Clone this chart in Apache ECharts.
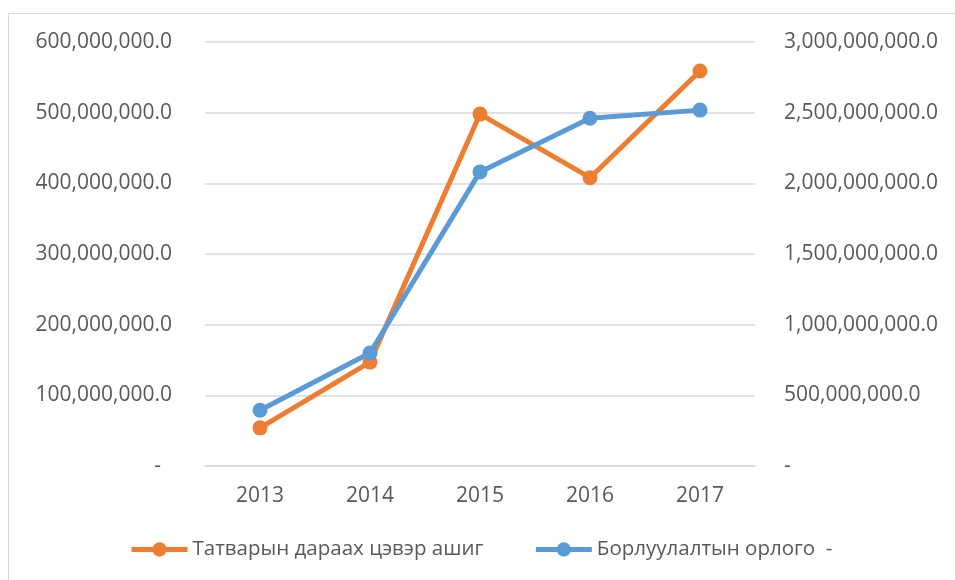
<!DOCTYPE html>
<html>
<head>
<meta charset="utf-8">
<script src="https://cdn.jsdelivr.net/npm/echarts@6/dist/echarts.min.js"></script>
<style>
  html, body { margin: 0; padding: 0; background: #fff; }
</style>
</head>
<body>
<div id="chart" style="width:955px;height:580px"></div>
<script>
// data
const years = ['2013', '2014', '2015', '2016', '2017']
const netProfit = [54000000, 147000000, 498000000, 408000000, 559000000]   // left axis
const salesIncome = [394000000, 800000000, 2081000000, 2460000000, 2518000000] // right axis
const leftMax = 600000000
const rightMax = 3000000000

const textColor = '#595959'
const fontFamily = '"Open Sans", "Noto Sans", sans-serif'

function fmt (v, dash) {
  if (v === 0) return dash
  return v.toLocaleString('en-US', { minimumFractionDigits: 1, maximumFractionDigits: 1 })
}

const myChart = echarts.init(document.getElementById('chart'))
myChart.setOption({
  animation: false,
  textStyle: { fontFamily: fontFamily },
  graphic: [{
    type: 'rect',
    shape: { x: 8.5, y: 13.5, width: 1000, height: 600 },
    style: { fill: 'none', stroke: '#d9d9d9', lineWidth: 1 },
    silent: true
  }],
  grid: {
    left: 205,
    right: 200,
    top: 42,
    bottom: 114
  },
  legend: {
    left: 124,
    top: 534,
    itemWidth: 56,
    itemHeight: 18,
    itemGap: 50,
    lineStyle: { width: 5 },
    textStyle: { color: textColor, fontSize: 20.5, fontFamily: fontFamily },
    data: ['Татварын дараах цэвэр ашиг', 'Борлуулалтын орлого  -']
  },
  xAxis: {
    type: 'category',
    data: years,
    axisLine: { lineStyle: { color: '#d9d9d9', width: 1.5 } },
    axisTick: { show: false },
    axisLabel: { color: textColor, fontSize: 21, margin: 20 }
  },
  yAxis: [{
    type: 'value',
    min: 0,
    max: leftMax,
    interval: 100000000,
    axisLine: { show: false },
    axisTick: { show: false },
    splitLine: { lineStyle: { color: '#d9d9d9', width: 1.5 } },
    axisLabel: {
      color: textColor,
      fontSize: 21,
      margin: 33,
      formatter: (v) => fmt(v, '-  ')
    }
  }, {
    type: 'value',
    min: 0,
    max: rightMax,
    interval: 500000000,
    position: 'right',
    axisLine: { show: false },
    axisTick: { show: false },
    splitLine: { show: false },
    axisLabel: {
      color: textColor,
      fontSize: 21,
      margin: 29,
      formatter: (v) => fmt(v, '-')
    }
  }],
  series: [
    {
      name: 'Татварын дараах цэвэр ашиг',
      type: 'line',
      yAxisIndex: 0,
      data: netProfit,
      symbol: 'circle',
      symbolSize: 15,
      itemStyle: { color: '#ed7d31' },
      lineStyle: { color: '#ed7d31', width: 5 }
    },
    {
      name: 'Борлуулалтын орлого  -',
      type: 'line',
      yAxisIndex: 1,
      data: salesIncome,
      symbol: 'circle',
      symbolSize: 15,
      itemStyle: { color: '#5b9bd5' },
      lineStyle: { color: '#5b9bd5', width: 5 }
    }
  ]
})
</script>
</body>
</html>
